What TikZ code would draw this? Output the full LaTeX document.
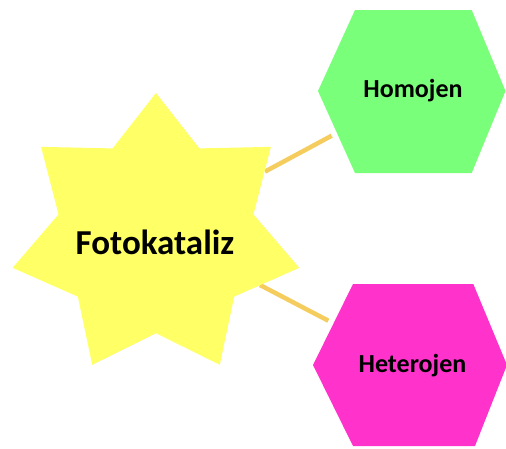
\documentclass[tikz,border=0pt]{standalone}
\usepackage{fontspec}
\setmainfont{Carlito}
\definecolor{starfill}{RGB}{255,255,102}
\definecolor{homfill}{RGB}{122,255,122}
\definecolor{hetfill}{RGB}{255,51,204}
\definecolor{linkcol}{RGB}{245,205,95}
\begin{document}
\begin{tikzpicture}[x=1pt,y=-1pt,
  link/.style={draw=linkcol,line width=4.5pt},
  label/.style={font=\bfseries\fontsize{26}{30}\selectfont,text=black,inner sep=0pt},
  biglabel/.style={font=\bfseries\fontsize{35}{40}\selectfont,text=black,inner sep=0pt}]
\useasboundingbox (0,0) rectangle (506,448);
% connectors
\coordinate (l1a) at (265,171.6);
\coordinate (l1b) at (331.7,135.7);
\coordinate (l2a) at (260,285);
\coordinate (l2b) at (328.3,320.7);
\draw[link] (l1a) -- (l1b);
\draw[link] (l2a) -- (l2b);
% star
\fill[starfill] (156,93) \foreach \k [evaluate=\k as \r using {mod(\k,2)==0 ? 1 : 0.68}] in {1,...,13} { -- ({156+147*\r*cos(90+\k*360/14)},{236-143*\r*sin(90+\k*360/14)}) } -- cycle;
\node[biglabel] (foto) at (155,242) {Fotokataliz};
% hexagons
\fill[homfill] (355,10) -- (471.7,10) -- (505.5,91) -- (471.7,173) -- (355,173) -- (318,91) -- cycle;
\node[label] (hom) at (413,91) {Homojen};
\fill[hetfill] (353,284) -- (473.3,284) -- (507,365) -- (475,446) -- (353,446) -- (313,365) -- cycle;
\node[label] (het) at (412.5,366) {Heterojen};
\end{tikzpicture}
\end{document}
